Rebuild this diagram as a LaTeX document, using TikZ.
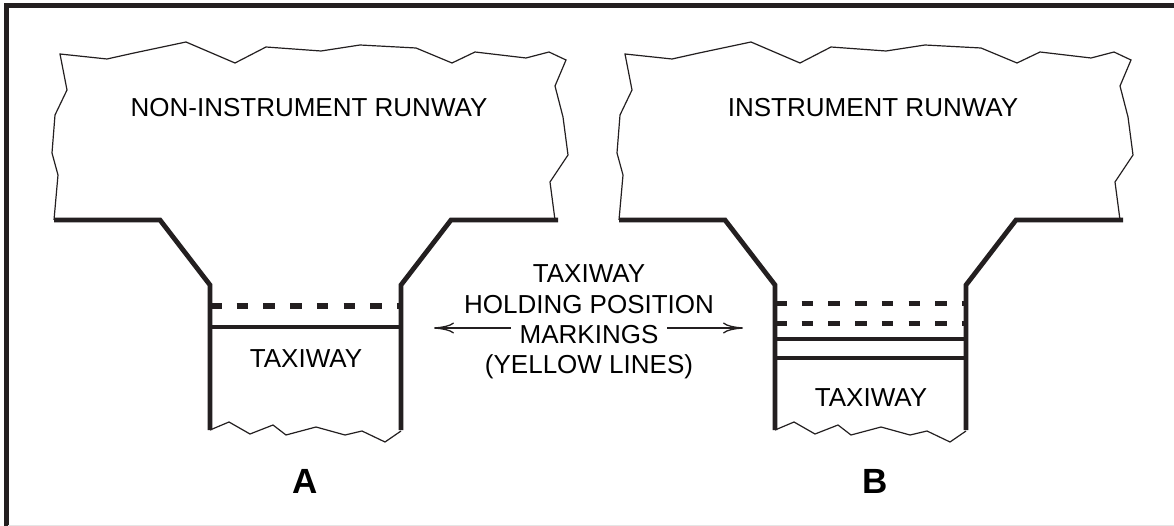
\documentclass[tikz,border=0pt]{standalone}
\usepackage{fontspec}
\setmainfont{Liberation Sans}
\usetikzlibrary{arrows.meta}
\definecolor{ink}{RGB}{35,31,32}
\newcommand\TaxiGeometry{%
  % thin jagged runway outline
  \draw[rwyline] (54,220) -- (58,175) -- (52,153) -- (55,115) -- (67,90) -- (60,54)
    -- (107,59) -- (134,53) -- (186,42) -- (235,63) -- (266,47) -- (321,51)
    -- (360,45) -- (416,48) -- (452,63) -- (475,52) -- (526,58) -- (549,52)
    -- (566,60) -- (555,86) -- (563,117) -- (568,155) -- (550,182) -- (555,220);
  % thick pavement edges
  \draw[paveline] (54,220) -- (160,220) -- (210,285) -- (210,430);
  \draw[paveline] (558,220) -- (451,220) -- (401,285) -- (401,430);
  % jagged taxiway end
  \draw[rwyline] (210,430) -- (229,422) -- (250,434) -- (273,425) -- (286,435)
    -- (316,427) -- (345,435) -- (362,431) -- (385,442) -- (401,431);
}
\begin{document}
\begin{tikzpicture}[x=1pt,y=-1pt,
  rwyline/.style={draw=ink,line width=1.2pt,line join=miter},
  paveline/.style={draw=ink,line width=4.8pt,line join=miter,line cap=butt},
  holdsolid/.style={draw=ink,line width=4.8pt},
  holddash/.style={draw=ink,line width=5pt,dash pattern=on 11.5pt off 15.2pt},
  lbl/.style={font=\fontsize{26}{30}\selectfont,text=black,inner sep=0pt,anchor=base},
  letter/.style={font=\fontsize{35}{40}\selectfont\bfseries,text=black,inner sep=0pt,anchor=base},
  arr/.style={draw=ink,line width=1.3pt,-{Computer Modern Rightarrow[length=20pt,width=11pt]}}]
\useasboundingbox (0,0) rectangle (1174,526);
\fill[white] (0,0) rectangle (1174,526);
% frame
\draw[ink,line width=5pt,line join=miter] (6,526) -- (6,5.5) -- (1174,5.5);
\draw[black!10,line width=1pt] (8,525.5) -- (1174,525.5);

% left (A) non-instrument runway
\TaxiGeometry
\draw[holddash] (210,306) -- (401,306);
\draw[holdsolid] (210,327) -- (401,327);

% right (B) instrument runway
\begin{scope}[xshift=565pt]
\TaxiGeometry
\draw[holddash] (210,304) -- (401,304);
\draw[holddash] (210,323) -- (401,323);
\draw[holdsolid] (210,339) -- (401,339);
\draw[holdsolid] (210,358) -- (401,358);
\end{scope}

% labels
\node[lbl] (rwyA) at (309,117) {NON-INSTRUMENT RUNWAY};
\node[lbl] (rwyB) at (873,117) {INSTRUMENT RUNWAY};
\node[lbl] (taxiA) at (306,367) {TAXIWAY};
\node[lbl] (taxiB) at (871,406) {TAXIWAY};
\node[letter] (letA) at (305,493) {A};
\node[letter] (letB) at (875,493) {B};

% centre explanation
\node[lbl] (t1) at (589,283) {TAXIWAY};
\node[lbl] (t2) at (589,313) {HOLDING POSITION};
\node[lbl,inner xsep=8.5pt] (t3) at (589,343) {MARKINGS};
\node[lbl] (t4) at (589,373) {(YELLOW LINES)};
\coordinate (tipL) at (434,328);
\coordinate (tipR) at (743,328);
\draw[arr] (t3.west |- tipL) -- (tipL);
\draw[arr] (t3.east |- tipR) -- (tipR);
\end{tikzpicture}
\end{document}
